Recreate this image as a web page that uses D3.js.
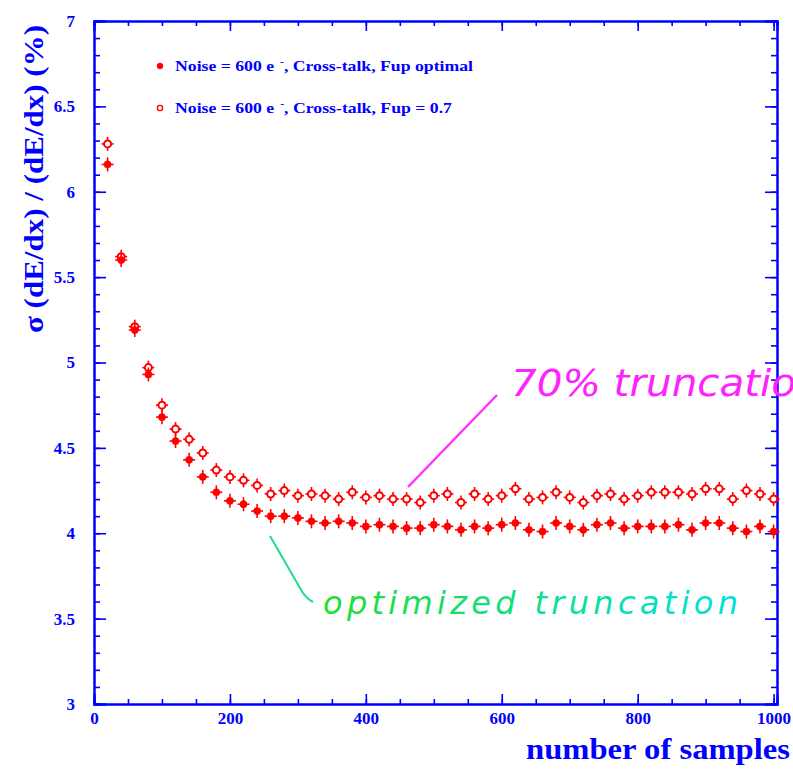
<!DOCTYPE html>
<html lang="en">
<head>
    <meta charset="UTF-8">
    <script src="https://d3js.org/d3.v7.min.js"></script>
    <title>dE/dx resolution vs number of samples</title>
    <style>
        body { margin: 0; background: #fff; }
        svg { display: block; }
    </style>
</head>
<body>
    <div id="chart"></div>

    <script>
        // number of samples (x positions of the points)
        let samples = [20, 40, 60, 80, 100, 120, 140, 160, 180, 200,
                       220, 240, 260, 280, 300, 320, 340, 360, 380, 400,
                       420, 440, 460, 480, 500, 520, 540, 560, 580, 600,
                       620, 640, 660, 680, 700, 720, 740, 760, 780, 800,
                       820, 840, 860, 880, 900, 920, 940, 960, 980, 1000];

        // Fup optimal (full markers)
        let sigmaOptimal = [6.16, 5.60, 5.19, 4.93, 4.68, 4.54, 4.43, 4.33, 4.24, 4.19,
                            4.17, 4.13, 4.10, 4.10, 4.09, 4.07, 4.06, 4.07, 4.06, 4.04,
                            4.05, 4.04, 4.03, 4.03, 4.05, 4.04, 4.02, 4.04, 4.03, 4.05,
                            4.06, 4.02, 4.01, 4.06, 4.04, 4.02, 4.05, 4.06, 4.03, 4.04,
                            4.04, 4.04, 4.05, 4.02, 4.06, 4.06, 4.03, 4.01, 4.04, 4.01];

        // Fup = 0.7 (open markers)
        let sigma70 = [6.28, 5.62, 5.21, 4.97, 4.75, 4.61, 4.55, 4.47, 4.37, 4.33,
                       4.31, 4.28, 4.23, 4.25, 4.22, 4.23, 4.22, 4.20, 4.24, 4.21,
                       4.22, 4.20, 4.20, 4.18, 4.22, 4.23, 4.18, 4.23, 4.20, 4.22,
                       4.26, 4.20, 4.21, 4.24, 4.21, 4.18, 4.22, 4.23, 4.20, 4.22,
                       4.24, 4.24, 4.24, 4.23, 4.26, 4.26, 4.20, 4.25, 4.23, 4.20];

        let xTickLabels = [0, 200, 400, 600, 800, 1000];
        let yTickLabels = [3, 3.5, 4, 4.5, 5, 5.5, 6, 6.5, 7];

        let legendLabels = ["Noise = 600 e", ", Cross-talk, Fup optimal",
                            ", Cross-talk, Fup = 0.7"];

        let win_width = 793, win_height = 773;
        let blue = "#0000ff", red = "#ff0000";
        let serif = "'Liberation Serif', 'Times New Roman', serif";

        let svg = d3.select("#chart")
            .append("svg")
            .attr("width", win_width)
            .attr("height", win_height);

        // frame of the plot
        let frame = {left: 94, right: 777, top: 21, bottom: 704};

        let x = d3.scaleLinear().domain([0, 1005]).range([frame.left, frame.right]);
        let y = d3.scaleLinear().domain([3, 7]).range([frame.bottom, frame.top]);

        let xMinor = d3.range(0, 1001, 50);
        let yMinor = d3.range(30, 71, 1).map(function(d) { return d / 10; });

        let styleAxis = function(g) {
            g.select(".domain").attr("stroke", blue).attr("stroke-width", 2);
            g.selectAll(".tick line").attr("stroke", blue).attr("stroke-width", 1.6);
            g.selectAll(".tick text")
                .attr("fill", blue)
                .style("font-family", serif)
                .style("font-weight", "bold")
                .style("font-size", "17px");
        };

        // bottom axis
        svg.append("g")
            .attr("transform", "translate(0," + frame.bottom + ")")
            .call(d3.axisBottom(x).tickValues(xMinor).tickSize(-5).tickFormat(""))
            .call(styleAxis);
        svg.append("g")
            .attr("transform", "translate(0," + frame.bottom + ")")
            .call(d3.axisBottom(x).tickValues(xTickLabels).tickSize(-10).tickPadding(8)
                .tickFormat(d3.format("d")))
            .call(styleAxis);

        // top axis
        svg.append("g")
            .attr("transform", "translate(0," + frame.top + ")")
            .call(d3.axisTop(x).tickValues(xMinor).tickSize(-5).tickFormat(""))
            .call(styleAxis);
        svg.append("g")
            .attr("transform", "translate(0," + frame.top + ")")
            .call(d3.axisTop(x).tickValues(xTickLabels).tickSize(-10).tickFormat(""))
            .call(styleAxis);

        // left axis
        svg.append("g")
            .attr("transform", "translate(" + frame.left + ",0)")
            .call(d3.axisLeft(y).tickValues(yMinor).tickSize(-6).tickFormat(""))
            .call(styleAxis);
        svg.append("g")
            .attr("transform", "translate(" + frame.left + ",0)")
            .call(d3.axisLeft(y).tickValues(yTickLabels).tickSize(-12).tickPadding(19)
                .tickFormat(function(d) { return d; }))
            .call(styleAxis);

        // right axis
        svg.append("g")
            .attr("transform", "translate(" + frame.right + ",0)")
            .call(d3.axisRight(y).tickValues(yMinor).tickSize(-6).tickFormat(""))
            .call(styleAxis);
        svg.append("g")
            .attr("transform", "translate(" + frame.right + ",0)")
            .call(d3.axisRight(y).tickValues(yTickLabels).tickSize(-12).tickFormat(""))
            .call(styleAxis);

        // axis titles
        svg.append("text")
            .attr("x", 790)
            .attr("y", 759)
            .attr("text-anchor", "end")
            .attr("fill", blue)
            .style("font-family", serif)
            .style("font-weight", "bold")
            .style("font-size", "30px")
            .attr("textLength", 264)
            .attr("lengthAdjust", "spacingAndGlyphs")
            .text("number of samples");

        svg.append("text")
            .attr("transform", "translate(43,179) rotate(-90)")
            .attr("text-anchor", "middle")
            .attr("fill", blue)
            .style("font-family", serif)
            .style("font-weight", "bold")
            .style("font-size", "28px")
            .attr("textLength", 308)
            .attr("lengthAdjust", "spacingAndGlyphs")
            .text("σ (dE/dx) / (dE/dx)  (%)");

        // markers: small error-bar cross plus a circle
        let drawSeries = function(values, filled) {
            let g = svg.append("g");
            let pts = g.selectAll("g.pt")
                .data(samples.map(function(s, i) { return {s: s, v: values[i]}; }))
                .enter()
                .append("g")
                .attr("transform", function(d) { return "translate(" + x(d.s) + "," + y(d.v) + ")"; });
            pts.append("line")
                .attr("x1", -6).attr("x2", 6)
                .attr("stroke", red).attr("stroke-width", 1.6);
            pts.append("line")
                .attr("y1", -7).attr("y2", 7)
                .attr("stroke", red).attr("stroke-width", 1.6);
            pts.append("circle")
                .attr("r", filled ? 3.6 : 3.5)
                .attr("fill", filled ? red : "#fff")
                .attr("stroke", red)
                .attr("stroke-width", filled ? 0.5 : 2);
        };
        drawSeries(sigma70, false);
        drawSeries(sigmaOptimal, true);

        // legend
        let legend = [{label: legendLabels[1], filled: true, y: 66, w: 298},
                      {label: legendLabels[2], filled: false, y: 108, w: 277}];
        legend.forEach(function(l) {
            svg.append("circle")
                .attr("cx", 160).attr("cy", l.y)
                .attr("r", l.filled ? 3 : 2.6)
                .attr("fill", l.filled ? red : "#fff")
                .attr("stroke", red)
                .attr("stroke-width", l.filled ? 0.5 : 1.4);
            let t = svg.append("text")
                .attr("x", 175)
                .attr("y", l.y + 5)
                .attr("fill", blue)
                .attr("textLength", l.w)
                .attr("lengthAdjust", "spacingAndGlyphs")
                .style("font-family", serif)
                .style("font-weight", "bold")
                .style("font-size", "15px");
            t.append("tspan").text(legendLabels[0]);
            t.append("tspan").attr("dy", -6).attr("dx", 5).style("font-size", "10px").text("-");
            t.append("tspan").attr("dy", 6).text(l.label);
        });

        // hand-written annotations
        let defs = svg.append("defs");
        let grad = defs.append("linearGradient")
            .attr("id", "greenCyan")
            .attr("gradientUnits", "userSpaceOnUse")
            .attr("x1", 320).attr("x2", 740).attr("y1", 0).attr("y2", 0);
        grad.append("stop").attr("offset", "0%").attr("stop-color", "#22dd33");
        grad.append("stop").attr("offset", "100%").attr("stop-color", "#00e0e0");

        svg.append("path")
            .attr("d", "M408,487 L497,395")
            .attr("stroke", "#ff33ff")
            .attr("stroke-width", 2.5)
            .attr("fill", "none");
        svg.append("text")
            .attr("x", 511)
            .attr("y", 396)
            .attr("fill", "#ff22ff")
            .style("font-family", "'DejaVu Sans', sans-serif")
            .style("font-style", "italic")
            .style("font-size", "38px")
            .attr("textLength", 285)
            .attr("lengthAdjust", "spacingAndGlyphs")
            .text("70% truncatio");

        svg.append("path")
            .attr("d", "M270,536 L300,588 Q305,598 313,602")
            .attr("stroke", "#22dd88")
            .attr("stroke-width", 2)
            .attr("fill", "none");
        svg.append("text")
            .attr("x", 323)
            .attr("y", 614)
            .attr("fill", "url(#greenCyan)")
            .style("font-family", "'DejaVu Sans', sans-serif")
            .style("font-style", "italic")
            .style("font-size", "32px")
            .attr("textLength", 415)
            .attr("lengthAdjust", "spacing")
            .text("optimized truncation");
    </script>
</body>
</html>
